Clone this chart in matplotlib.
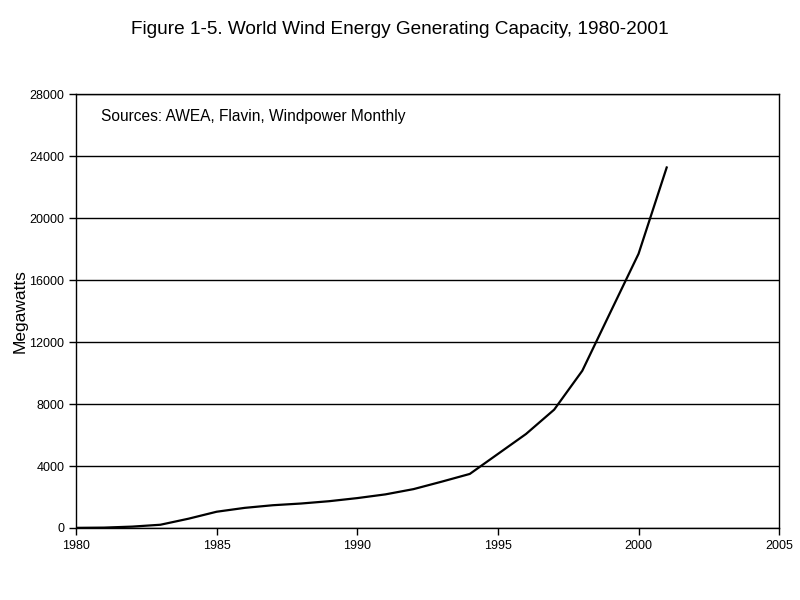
import matplotlib
matplotlib.use("Agg")
import matplotlib.pyplot as plt

years = list(range(1980, 2002))
megawatts = [10, 25, 90, 210, 600, 1050, 1300, 1470, 1580, 1730, 1930,
             2170, 2510, 2990, 3490, 4780, 6070, 7640, 10150, 13930,
             17700, 23270]

x_ticks = [1980, 1985, 1990, 1995, 2000, 2005]
y_ticks = list(range(0, 28001, 4000))

plt.rcParams["font.family"] = ["Liberation Sans", "DejaVu Sans"]

fig = plt.figure(figsize=(8, 6), dpi=100)
ax = fig.add_axes([0.095, 0.12, 0.879, 0.723])

ax.plot(years, megawatts, color="black", linewidth=1.6)

ax.set_xlim(1980, 2005)
ax.set_ylim(0, 28000)
ax.set_xticks(x_ticks)
ax.set_yticks(y_ticks)
ax.tick_params(axis="both", labelsize=9, direction="out", length=5,
               width=1, color="black")
ax.yaxis.grid(True, color="black", linewidth=1)
ax.set_axisbelow(True)
for spine in ax.spines.values():
    spine.set_color("black")
    spine.set_linewidth(1)

ax.set_ylabel("Megawatts", fontsize=12.5, labelpad=1)
ax.text(0.035, 0.965, "Sources: AWEA, Flavin, Windpower Monthly",
        transform=ax.transAxes, fontsize=11.2, va="top", ha="left")

fig.suptitle("Figure 1-5. World Wind Energy Generating Capacity, 1980-2001",
             fontsize=13.7, y=0.965)

fig.savefig("out.png", dpi=100)
